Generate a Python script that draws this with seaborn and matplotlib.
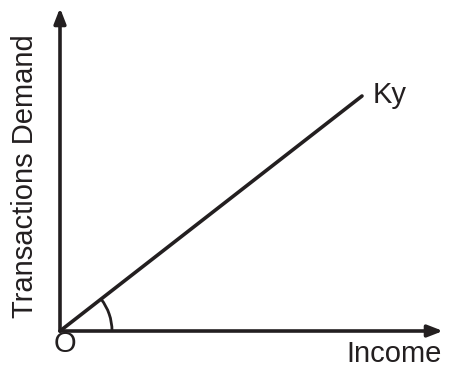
import numpy as np
import matplotlib
matplotlib.use('agg')
import matplotlib.pyplot as plt
import seaborn as sns
from matplotlib.patches import Arc

# --- data (units: pixels measured from the origin O)

ky_x = [0, 302]
ky_y = [0, 235]
x_axis_end = 383
y_axis_end = 323
arc_radius = 52

line_label = "Ky"
x_label = "Income"
y_label = "Transactions Demand"
origin_label = "O"

# --- plot

sns.set_style("white")
plt.rcParams['font.family'] = ['Liberation Sans', 'DejaVu Sans']

fig = plt.figure(figsize=(4.51, 3.68), dpi=100)
ax = fig.add_axes([0, 0, 1, 1])
ax.set_xlim(-60, 391)
ax.set_ylim(-37, 331)
ax.axis('off')

dark = "#231f20"

# axes arrows
arrow = dict(arrowstyle='-|>,head_length=0.9,head_width=0.35', color=dark,
             lw=2.6, shrinkA=0, shrinkB=0)
ax.annotate("", xy=(x_axis_end, 0), xytext=(0, 0), arrowprops=arrow)
ax.annotate("", xy=(0, y_axis_end), xytext=(0, 0), arrowprops=arrow)

# Ky line
sns.lineplot(x=ky_x, y=ky_y, ax=ax, color=dark, linewidth=2.6)

# angle arc
ang = np.degrees(np.arctan2(ky_y[-1], ky_x[-1]))
ax.add_patch(Arc((0, 0), 2 * arc_radius, 2 * arc_radius, theta1=0, theta2=ang,
                 color=dark, lw=2.0))

# labels
ax.text(ky_x[-1] + 11, ky_y[-1] - 7, line_label, fontsize=21, color=dark,
        ha='left', va='baseline')
ax.text(382, -31, x_label, fontsize=21, color=dark, ha='right', va='baseline')
ax.text(4.5, -13, origin_label, fontsize=21, color=dark, ha='center', va='center')
ax.text(-35, 155, y_label, fontsize=21, color=dark, ha='center', va='center',
        rotation=90)

plt.savefig("out.png", dpi=100)
